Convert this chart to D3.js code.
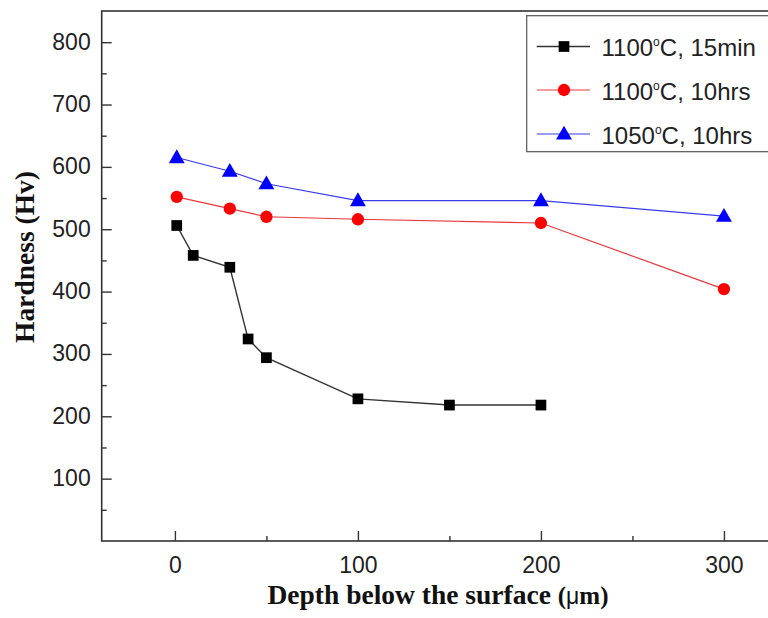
<!DOCTYPE html>
<html>
<head>
<meta charset="utf-8">
<script src="https://cdn.jsdelivr.net/npm/d3@7"></script>
<style>
html,body{margin:0;padding:0;background:#fff;}
svg{display:block;}
</style>
</head>
<body>
<svg id="chart" width="768" height="618"></svg>
<script>
// ---- data ----
const blackX = [1, 10, 30, 40, 50, 100, 150, 200];
const blackY = [506, 458, 439, 324, 294, 228, 218, 218];
const redX = [1, 30, 50, 100, 200, 300];
const redY = [552, 533, 520, 516, 510, 404];
const blueX = [1, 30, 50, 100, 200, 300];
const blueY = [615, 593, 573, 546, 546, 521];
const seriesNames = ["1100|C, 15min", "1100|C, 10hrs", "1050|C, 10hrs"];
const xTicks = [0, 100, 200, 300];
const xMinor = [50, 150, 250];
const yTicks = [100, 200, 300, 400, 500, 600, 700, 800];
const yMinor = [50, 150, 250, 350, 450, 550, 650, 750];

const svg = d3.select("#chart");
const L = 101.7, R = 769.7, T = 11, B = 541;
const x = d3.scaleLinear().domain([-40, 325]).range([L, R]);
const y = d3.scaleLinear().domain([0, 850]).range([B, T]);

const axisColor = "#333";
const sans = "Liberation Sans, Arial, sans-serif";
const serif = "Liberation Serif, Times New Roman, serif";
// frame
svg.append("rect").attr("x", L).attr("y", T).attr("width", R - L).attr("height", B - T)
  .attr("fill", "none").attr("stroke", axisColor).attr("stroke-width", 1.6);

// x axis ticks (inward)
const gx = svg.append("g").attr("transform", `translate(0,${B})`)
  .call(d3.axisBottom(x).tickValues(xTicks).tickSizeInner(-10).tickSizeOuter(0).tickPadding(16).tickFormat(d3.format("d")));
gx.select(".domain").remove();
gx.selectAll(".tick line").attr("stroke", axisColor).attr("stroke-width", 1.4);
gx.selectAll(".tick text").attr("font-family", sans).attr("font-size", 23).attr("fill", "#222");
const gxm = svg.append("g").attr("transform", `translate(0,${B})`)
  .call(d3.axisBottom(x).tickValues(xMinor).tickSizeInner(-5).tickSizeOuter(0).tickFormat(""));
gxm.select(".domain").remove();
gxm.selectAll(".tick line").attr("stroke", axisColor).attr("stroke-width", 1.4);

// y axis ticks
const gy = svg.append("g").attr("transform", `translate(${L},0)`)
  .call(d3.axisLeft(y).tickValues(yTicks).tickSizeInner(-10).tickSizeOuter(0).tickPadding(11).tickFormat(d3.format("d")));
gy.select(".domain").remove();
gy.selectAll(".tick line").attr("stroke", axisColor).attr("stroke-width", 1.4);
gy.selectAll(".tick text").attr("font-family", sans).attr("font-size", 23).attr("fill", "#222").attr("dy", "0.3em");
const gym = svg.append("g").attr("transform", `translate(${L},0)`)
  .call(d3.axisLeft(y).tickValues(yMinor).tickSizeInner(-5).tickSizeOuter(0).tickFormat(""));
gym.select(".domain").remove();
gym.selectAll(".tick line").attr("stroke", axisColor).attr("stroke-width", 1.4);

// axis titles
const xt = svg.append("text").attr("x", 438).attr("y", 604).attr("text-anchor", "middle")
  .attr("font-family", serif).attr("font-weight", "bold").attr("font-size", 27.5).attr("fill", "#111");
xt.append("tspan").text("Depth below the surface ");
xt.append("tspan").attr("font-size", 25).text("(");
xt.append("tspan").attr("font-family", sans).attr("font-weight", "normal").attr("font-size", 23).text("\u03bc");
xt.append("tspan").attr("font-size", 25).text("m)");

svg.append("text").attr("transform", "translate(34,257) rotate(-90)").attr("text-anchor", "middle")
  .attr("font-family", serif).attr("font-weight", "bold").attr("font-size", 27.5).attr("fill", "#111")
  .text("Hardness (Hv)");

// series
const series = [
  {xs: blackX, ys: blackY, line: "#333", fill: "#000", lw: 1.4, sym: d3.symbolSquare, size: 115},
  {xs: redX, ys: redY, line: "#e8383d", fill: "#ff0000", lw: 1.2, sym: d3.symbolCircle, size: 120},
  {xs: blueX, ys: blueY, line: "#3a3ae8", fill: "#0000ff", lw: 1.2, sym: d3.symbolTriangle, size: 110}
];
const line = d3.line().x(d => x(d[0])).y(d => y(d[1]));
series.forEach(s => {
  const pts = s.xs.map((v, i) => [v, s.ys[i]]);
  svg.append("path").datum(pts).attr("d", line).attr("fill", "none").attr("stroke", s.line).attr("stroke-width", s.lw);
  svg.append("g").selectAll("path").data(pts).join("path")
    .attr("transform", d => `translate(${x(d[0])},${y(d[1]) + (s.sym === d3.symbolTriangle ? 1 : 0)})`)
    .attr("d", d3.symbol().type(s.sym).size(s.size)).attr("fill", s.fill);
});

// legend
svg.append("rect").attr("x", 526.7).attr("y", 15.7).attr("width", 260).attr("height", 136)
  .attr("fill", "#fff").attr("stroke", "#555").attr("stroke-width", 1.2);
const rows = [46.5, 90, 134];
series.forEach((s, i) => {
  const cy = rows[i];
  svg.append("line").attr("x1", 536.7).attr("x2", 590).attr("y1", cy).attr("y2", cy)
    .attr("stroke", s.line).attr("stroke-width", s.lw);
  svg.append("path").attr("transform", `translate(564,${cy + (s.sym === d3.symbolTriangle ? 1 : 0)})`)
    .attr("d", d3.symbol().type(s.sym).size(s.size)).attr("fill", s.fill);
  const parts = seriesNames[i].split("|");
  const t = svg.append("text").attr("x", 601.5).attr("y", cy + 9.5)
    .attr("font-family", sans).attr("font-size", 24).attr("fill", "#222");
  t.append("tspan").text(parts[0]);
  t.append("tspan").attr("font-size", 12).attr("dy", -10).text("o");
  t.append("tspan").attr("dy", 10).text(parts[1]);
});
</script>
</body>
</html>
